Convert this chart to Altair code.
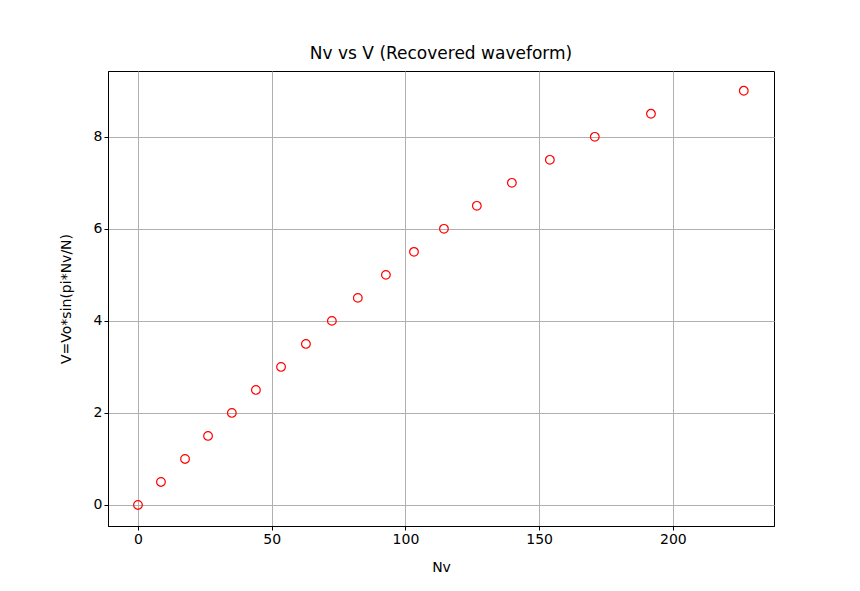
import altair as alt
import pandas as pd

nv = [0, 8.6, 17.6, 26.2, 35.1, 44.1, 53.5, 62.8, 72.5, 82.2, 92.7,
      103.2, 114.4, 126.7, 139.8, 154.0, 170.8, 191.8, 226.5]
v = [0, 0.5, 1, 1.5, 2, 2.5, 3, 3.5, 4, 4.5, 5, 5.5, 6, 6.5, 7, 7.5, 8, 8.5, 9]

df = pd.DataFrame({"Nv": nv, "V": v})

axis_common = dict(
    grid=True, gridColor="#b0b0b0", gridWidth=1,
    domainColor="black", tickColor="black", tickSize=4,
    labelFont="DejaVu Sans", labelFontSize=14, labelColor="black",
    titleFont="DejaVu Sans", titleFontSize=14, titleFontWeight="normal",
    titleColor="black",
)

chart = alt.Chart(df).mark_point(
    shape="circle", filled=False, color="red", size=75, strokeWidth=1.2, opacity=1
).encode(
    x=alt.X("Nv:Q", title="Nv",
            scale=alt.Scale(domain=[-11.2, 237.8], nice=False, zero=False),
            axis=alt.Axis(values=[0, 50, 100, 150, 200], titlePadding=14, **axis_common)),
    y=alt.Y("V:Q", title="V=Vo*sin(pi*Nv/N)",
            scale=alt.Scale(domain=[-0.457, 9.43], nice=False, zero=False),
            axis=alt.Axis(values=[0, 2, 4, 6, 8], titlePadding=20, **axis_common)),
).properties(
    width=666, height=455,
    title=alt.TitleParams("Nv vs V (Recovered waveform)", font="DejaVu Sans",
                          fontSize=17, fontWeight="normal", color="black", offset=8),
    autosize=alt.AutoSizeParams(type="none"),
    padding={"left": 100, "top": 63, "right": 70, "bottom": 50},
).configure_view(stroke="black", strokeWidth=1)

chart.save("out.html", embed_options={"renderer": "svg", "actions": False})
